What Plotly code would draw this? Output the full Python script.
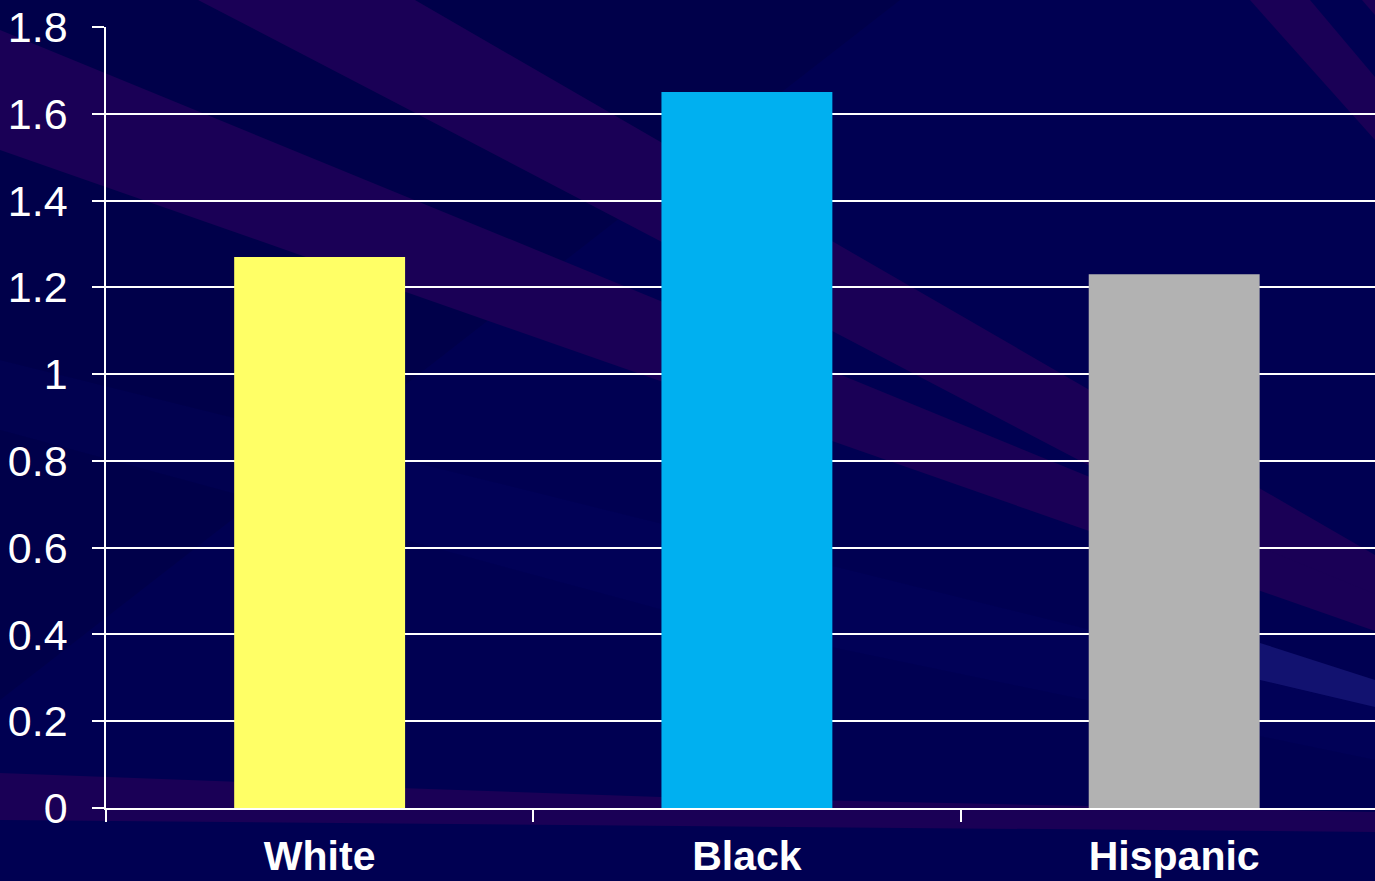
import plotly.graph_objects as go

# ---- data ----
categories = ["White", "Black", "Hispanic"]
values = [1.27, 1.65, 1.23]
bar_colors = ["#FFFF66", "#00B0F0", "#B2B2B2"]
y_ticks = [0, 0.2, 0.4, 0.6, 0.8, 1.0, 1.2, 1.4, 1.6, 1.8]
y_tick_labels = ["0", "0.2", "0.4", "0.6", "0.8", "1", "1.2", "1.4", "1.6", "1.8"]

W, H = 1375, 881
L, R, T, B = 106, 0, 27, 73
PW, PH = W - L - R, H - T - B


def to_paper(px, py):
    return (px - L) / PW, (H - B - py) / PH


def poly(points):
    pts = [to_paper(x, y) for x, y in points]
    return "M " + " L ".join(f"{x:.5f},{y:.5f}" for x, y in pts) + " Z"


BASE = "#000052"
PURPLE = "#1A0056"

bg_bands = [
    # slightly darker wash on the left/top
    (poly([(0, 0), (900, 0), (0, 700)]), "rgba(0,0,40,0.18)"),
    # subtle lighter navy streaks
    (poly([(0, 430), (700, 620), (1375, 760), (1375, 700), (0, 360)]), "rgba(10,10,120,0.12)"),
    (poly([(1260, 643), (1375, 680), (1375, 707), (1260, 680)]), "#121270"),
    # purple band A
    (poly([(175, -140), (415, 0), (1375, 555), (1375, 615), (400, 105), (150, -25)]), PURPLE),
    # purple band B
    (poly([(0, 30), (1375, 594), (1375, 631), (0, 150)]), PURPLE),
    # purple band at the bottom
    (poly([(0, 773), (400, 788), (661, 797), (1375, 812), (1375, 832), (0, 820)]), PURPLE),
    # purple band top right
    (poly([(1250, 0), (1310, 0), (1375, 77), (1375, 140)]), PURPLE),
    (poly([(1362, 0), (1375, 0), (1375, 15)]), PURPLE),
]

shapes = []
for path, color in bg_bands:
    shapes.append(dict(type="path", path=path, xref="paper", yref="paper",
                       fillcolor=color, line=dict(width=0), layer="below"))

fig = go.Figure(
    go.Bar(
        x=categories,
        y=values,
        marker=dict(color=bar_colors, line=dict(width=0)),
        width=0.4,
        hoverinfo="x+y",
    )
)

fig.update_layout(
    width=W,
    height=H,
    margin=dict(l=L, r=R, t=T, b=B, pad=0, autoexpand=False),
    paper_bgcolor=BASE,
    plot_bgcolor="rgba(0,0,0,0)",
    showlegend=False,
    shapes=shapes,
    font=dict(family="Liberation Sans, Arial, sans-serif", color="white"),
)

fig.update_xaxes(
    type="category",
    range=[-0.5, 2.47],
    automargin=False,
    showgrid=False,
    showline=True,
    linecolor="white",
    linewidth=1.5,
    ticks="outside",
    tickson="boundaries",
    ticklen=12,
    tickcolor="white",
    tickwidth=1.5,
    tickfont=dict(size=41, color="white", family="Liberation Sans, Arial, sans-serif", weight="bold"),
    ticklabelstandoff=11,
    zeroline=False,
)

fig.update_yaxes(
    range=[0, 1.8],
    automargin=False,
    tickvals=y_ticks,
    ticktext=y_tick_labels,
    showgrid=True,
    gridcolor="white",
    gridwidth=1.5,
    showline=True,
    linecolor="white",
    linewidth=1.5,
    ticks="outside",
    ticklen=12,
    tickcolor="white",
    tickwidth=1.5,
    tickfont=dict(size=43, color="white", family="Liberation Sans, Arial, sans-serif"),
    ticklabelstandoff=16,
    zeroline=False,
)

fig.write_html("out.html")
